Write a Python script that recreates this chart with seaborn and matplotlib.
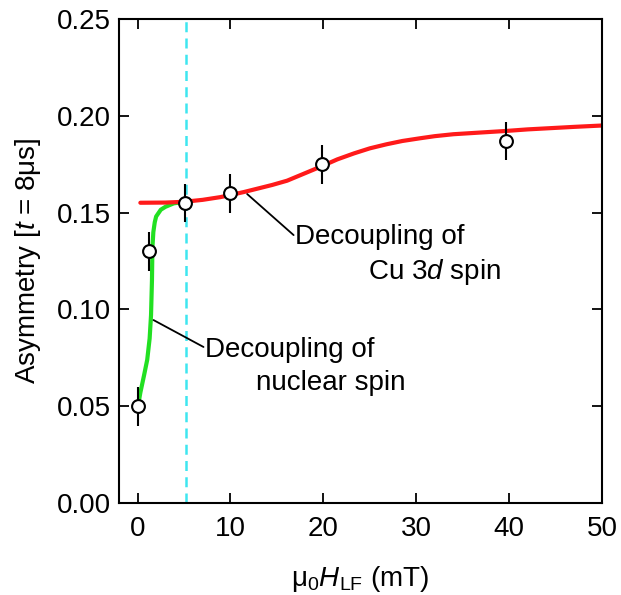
import matplotlib
matplotlib.use("Agg")
import matplotlib.pyplot as plt
import seaborn as sns

# Data
field_pts = [0.0, 1.2, 5.1, 10.0, 19.9, 39.7]
asym_pts = [0.050, 0.130, 0.155, 0.160, 0.175, 0.187]
asym_err = [0.010, 0.010, 0.010, 0.010, 0.010, 0.010]

green_x = [0.05, 0.3, 0.7, 1.04, 1.3, 1.45, 1.55, 1.6, 1.7, 1.85, 2.0, 2.5, 3.0, 3.9, 5.0]
green_y = [0.050, 0.057, 0.066, 0.074, 0.085, 0.097, 0.115, 0.132, 0.140, 0.145, 0.148, 0.1515, 0.153, 0.1548, 0.1555]

red_x = [0.3, 3.0, 5.0, 7.0, 8.9, 10.2, 11.5, 13.0, 14.5, 16.1, 17.5, 19.7, 21.5, 23.3, 25.0,
         26.8, 28.5, 30.4, 32.0, 34.0, 37.0, 39.7, 42.0, 44.7, 47.0, 50.0]
red_y = [0.1551, 0.1552, 0.1556, 0.1566, 0.1580, 0.1593, 0.1607, 0.1625, 0.1643, 0.1665, 0.1693,
         0.1737, 0.1775, 0.1806, 0.1832, 0.1853, 0.1870, 0.1884, 0.1895, 0.1905, 0.1914, 0.1922,
         0.1930, 0.1937, 0.1943, 0.1950]

vline_x = 5.2
x_ticks = [0, 10, 20, 30, 40, 50]
y_ticks = [0.00, 0.05, 0.10, 0.15, 0.20, 0.25]

sns.set_theme(style="ticks")
plt.rcParams['font.family'] = ['Liberation Sans', 'DejaVu Sans']
plt.rcParams['mathtext.fontset'] = 'custom'
plt.rcParams['mathtext.rm'] = 'Liberation Sans'
plt.rcParams['mathtext.it'] = 'Liberation Sans:italic'
plt.rcParams['mathtext.bf'] = 'Liberation Sans:bold'
plt.rcParams['text.color'] = 'black'
plt.rcParams['axes.labelcolor'] = 'black'

FS = 20

fig = plt.figure(figsize=(6.21, 5.95), dpi=100)
ax = fig.add_axes([0.1916, 0.1546, 0.9694 - 0.1916, 0.968 - 0.1546])

ax.axvline(vline_x, color="#3ee6f0", lw=1.8, dashes=(4, 2.5), zorder=1)

sns.lineplot(x=green_x, y=green_y, ax=ax, color="#22e022", lw=3.0, sort=False, zorder=2)
sns.lineplot(x=red_x, y=red_y, ax=ax, color="#ff1a1a", lw=3.0, sort=False, zorder=2)

ax.errorbar(field_pts, asym_pts, yerr=asym_err, fmt="none", ecolor="black",
            elinewidth=1.5, capsize=0, zorder=3)
sns.scatterplot(x=field_pts, y=asym_pts, ax=ax, s=85, facecolor="white",
                edgecolor="black", linewidth=1.5, zorder=4)

ax.set_xlim(-2, 50)
ax.set_ylim(0, 0.25)
ax.set_xticks(x_ticks)
ax.set_yticks(y_ticks)
ax.set_yticklabels([f"{v:.2f}" for v in y_ticks])
ax.tick_params(direction="in", length=7, width=1.3, top=True, right=True,
               labelsize=FS, colors="black", pad=6)
ax.tick_params(axis="x", pad=9)
for s in ax.spines.values():
    s.set_linewidth(1.5)
    s.set_color("black")

ax.set_xlabel(r"μ$_0$$\mathit{H}$$_{\rm LF}$ (mT)", fontsize=FS, labelpad=16)
ax.set_ylabel(r"Asymmetry [$\mathit{t}$ = 8μs]", fontsize=FS, labelpad=10)

# leader lines
ax.annotate("", xy=(11.8, 0.1596), xytext=(16.8, 0.1384),
            arrowprops=dict(arrowstyle="-", color="black", lw=1.3, shrinkA=0, shrinkB=0))
ax.annotate("", xy=(1.72, 0.0945), xytext=(7.1, 0.0806),
            arrowprops=dict(arrowstyle="-", color="black", lw=1.3, shrinkA=0, shrinkB=0))

ax.text(17.0, 0.1374, "Decoupling of", fontsize=FS, ha="left", va="center")
ax.text(24.8, 0.1193, "Cu 3$\\mathit{d}$ spin", fontsize=FS, ha="left", va="center")
ax.text(7.3, 0.0790, "Decoupling of", fontsize=FS, ha="left", va="center")
ax.text(12.7, 0.0620, "nuclear spin", fontsize=FS, ha="left", va="center")

fig.savefig("out.png", dpi=100)
